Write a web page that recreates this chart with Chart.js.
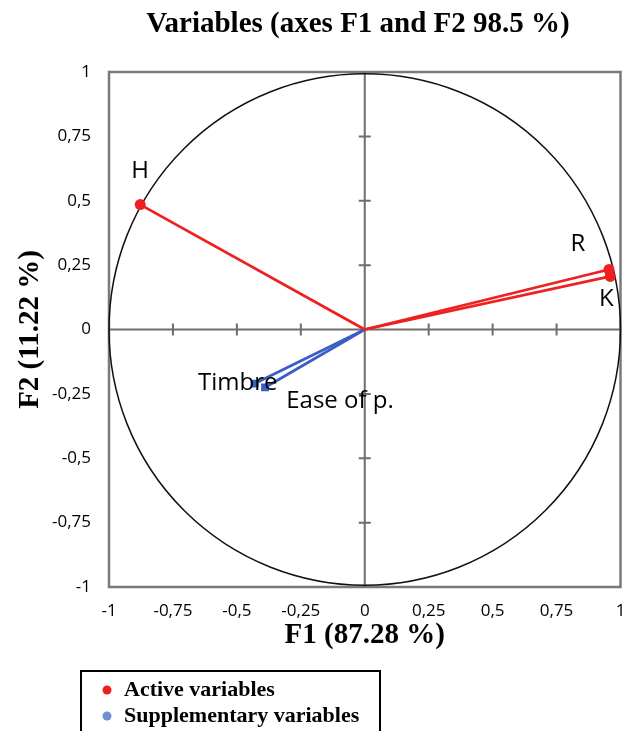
<!DOCTYPE html>
<html>
<head>
  <title>Variables (axes F1 and F2 98.5 %)</title>
  <style>
    html, body { margin: 0; padding: 0; background: #fff; }
    #wrap { width: 626px; height: 731px; position: relative; }
  </style>
</head>
<body>
  <div id="wrap"><canvas id="chart" width="626" height="731"></canvas></div>

  <script src="https://cdn.jsdelivr.net/npm/chart.js@4.4.1/dist/chart.umd.min.js"></script>
  <script>
    // correlation circle data
    var activeNames = ['H', 'R', 'K'];
    var activeF1 = [-0.878, 0.955, 0.96];
    var activeF2 = [0.485, 0.233, 0.206];
    var suppNames = ['Timbre', 'Ease of p.'];
    var suppF1 = [-0.43, -0.39];
    var suppF2 = [-0.21, -0.225];
    var tickValues = [-1, -0.75, -0.5, -0.25, 0, 0.25, 0.5, 0.75, 1];

    var RED = '#ee2020';
    var BLUE = '#3a5fc4';

    // label offsets in pixels (placement only)
    var activeOffsets = [[0, -33], [-31, -25], [-4, 23]];
    var suppOffsets = [[-17, 0], [75, 14]];

    function vectorDataset(x, y, color, group) {
      return {
        label: group,
        data: [{ x: 0, y: 0 }, { x: x, y: y }],
        showLine: true,
        borderColor: color,
        backgroundColor: color,
        borderWidth: 2.8,
        pointRadius: [0, 5.5],
        pointStyle: group === 'Active variables' ? 'circle' : 'rect',
        pointBorderWidth: 0
      };
    }

    var datasets = [];
    for (var i = 0; i < activeNames.length; i++) {
      datasets.push(vectorDataset(activeF1[i], activeF2[i], RED, 'Active variables'));
    }
    for (var j = 0; j < suppNames.length; j++) {
      datasets.push(vectorDataset(suppF1[j], suppF2[j], BLUE, 'Supplementary variables'));
    }

    function fmt(v) {
      return String(v).replace('.', ',');
    }

    var circlePlugin = {
      id: 'circle',
      beforeDatasetsDraw: function(chart) {
        var ctx = chart.ctx;
        var a = chart.chartArea;
        var xs = chart.scales.x, ys = chart.scales.y;
        var x0 = xs.getPixelForValue(0), y0 = ys.getPixelForValue(0);
        ctx.save();
        // frame
        ctx.strokeStyle = '#7a7a7a';
        ctx.lineWidth = 2.5;
        ctx.strokeRect(a.left, a.top, a.right - a.left, a.bottom - a.top);
        // axes through zero with tick marks
        ctx.strokeStyle = '#6e6e6e';
        ctx.lineWidth = 2;
        ctx.beginPath();
        ctx.moveTo(a.left, y0); ctx.lineTo(a.right, y0);
        ctx.moveTo(x0, a.top); ctx.lineTo(x0, a.bottom);
        tickValues.forEach(function(t) {
          if (t === 0 || Math.abs(t) === 1) return;
          var px = xs.getPixelForValue(t), py = ys.getPixelForValue(t);
          ctx.moveTo(px, y0 - 6); ctx.lineTo(px, y0 + 6);
          ctx.moveTo(x0 - 6, py); ctx.lineTo(x0 + 6, py);
        });
        ctx.stroke();
        // unit circle
        var r = xs.getPixelForValue(1) - x0;
        ctx.strokeStyle = '#111';
        ctx.lineWidth = 1.5;
        ctx.beginPath();
        ctx.arc(x0, y0, r, 0, Math.PI * 2);
        ctx.stroke();
        ctx.restore();
      },
      afterDatasetsDraw: function(chart) {
        var ctx = chart.ctx;
        var xs = chart.scales.x, ys = chart.scales.y;
        ctx.save();
        ctx.fillStyle = '#000';
        ctx.textAlign = 'center';
        ctx.textBaseline = 'middle';
        ctx.font = '24px "Open Sans"';
        activeNames.forEach(function(n, k) {
          ctx.fillText(n, xs.getPixelForValue(activeF1[k]) + activeOffsets[k][0],
                          ys.getPixelForValue(activeF2[k]) + activeOffsets[k][1]);
        });
        suppNames.forEach(function(n, k) {
          ctx.fillText(n, xs.getPixelForValue(suppF1[k]) + suppOffsets[k][0],
                          ys.getPixelForValue(suppF2[k]) + suppOffsets[k][1]);
        });

        // title
        ctx.font = 'bold 29px "Liberation Serif"';
        ctx.fillText('Variables (axes F1 and F2 98.5 %)', 358, 25);

        // legend box
        ctx.strokeStyle = '#000';
        ctx.lineWidth = 2;
        ctx.beginPath();
        ctx.moveTo(81, 740); ctx.lineTo(81, 671); ctx.lineTo(380, 671); ctx.lineTo(380, 740);
        ctx.stroke();
        ctx.textAlign = 'left';
        ctx.font = 'bold 22px "Liberation Serif"';
        [['Active variables', RED, 690], ['Supplementary variables', '#6f8fd0', 716]].forEach(function(it) {
          ctx.fillStyle = it[1];
          ctx.beginPath();
          ctx.arc(107, it[2], 4.5, 0, Math.PI * 2);
          ctx.fill();
          ctx.fillStyle = '#000';
          ctx.fillText(it[0], 124, it[2]);
        });
        ctx.restore();
      }
    };

    new Chart(document.getElementById('chart'), {
      type: 'scatter',
      data: { datasets: datasets },
      plugins: [circlePlugin],
      options: {
        responsive: false,
        animation: false,
        layout: { padding: { top: 72, right: 2, bottom: 78, left: 0 } },
        plugins: { legend: { display: false }, tooltip: { enabled: false }, title: { display: false } },
        scales: {
          x: {
            type: 'linear',
            min: -1, max: 1,
            afterBuildTicks: function(s) { s.ticks = tickValues.map(function(v) { return { value: v }; }); },
            afterFit: function(s) { s.height = 66; s.paddingLeft = 0; s.paddingRight = 0; },
            grid: { display: false, drawTicks: false },
            border: { display: false },
            ticks: { padding: 14, color: '#000', font: { family: 'Open Sans', size: 17 }, callback: fmt, maxRotation: 0, autoSkip: false },
            title: { display: true, text: 'F1 (87.28 %)', color: '#000', padding: 0,
                     font: { family: 'Liberation Serif', size: 29, weight: 'bold' } }
          },
          y: {
            type: 'linear',
            min: -1, max: 1,
            afterBuildTicks: function(s) { s.ticks = tickValues.map(function(v) { return { value: v }; }); },
            afterFit: function(s) { s.width = 109; s.paddingTop = 0; s.paddingBottom = 0; },
            grid: { display: false, drawTicks: false },
            border: { display: false },
            ticks: { padding: 18, color: '#000', font: { family: 'Open Sans', size: 17 }, callback: fmt, autoSkip: false },
            title: { display: true, text: 'F2 (11.22 %)', color: '#000', padding: { top: 13, bottom: 0 },
                     font: { family: 'Liberation Serif', size: 29, weight: 'bold' } }
          }
        }
      }
    });
  </script>
</body>
</html>
